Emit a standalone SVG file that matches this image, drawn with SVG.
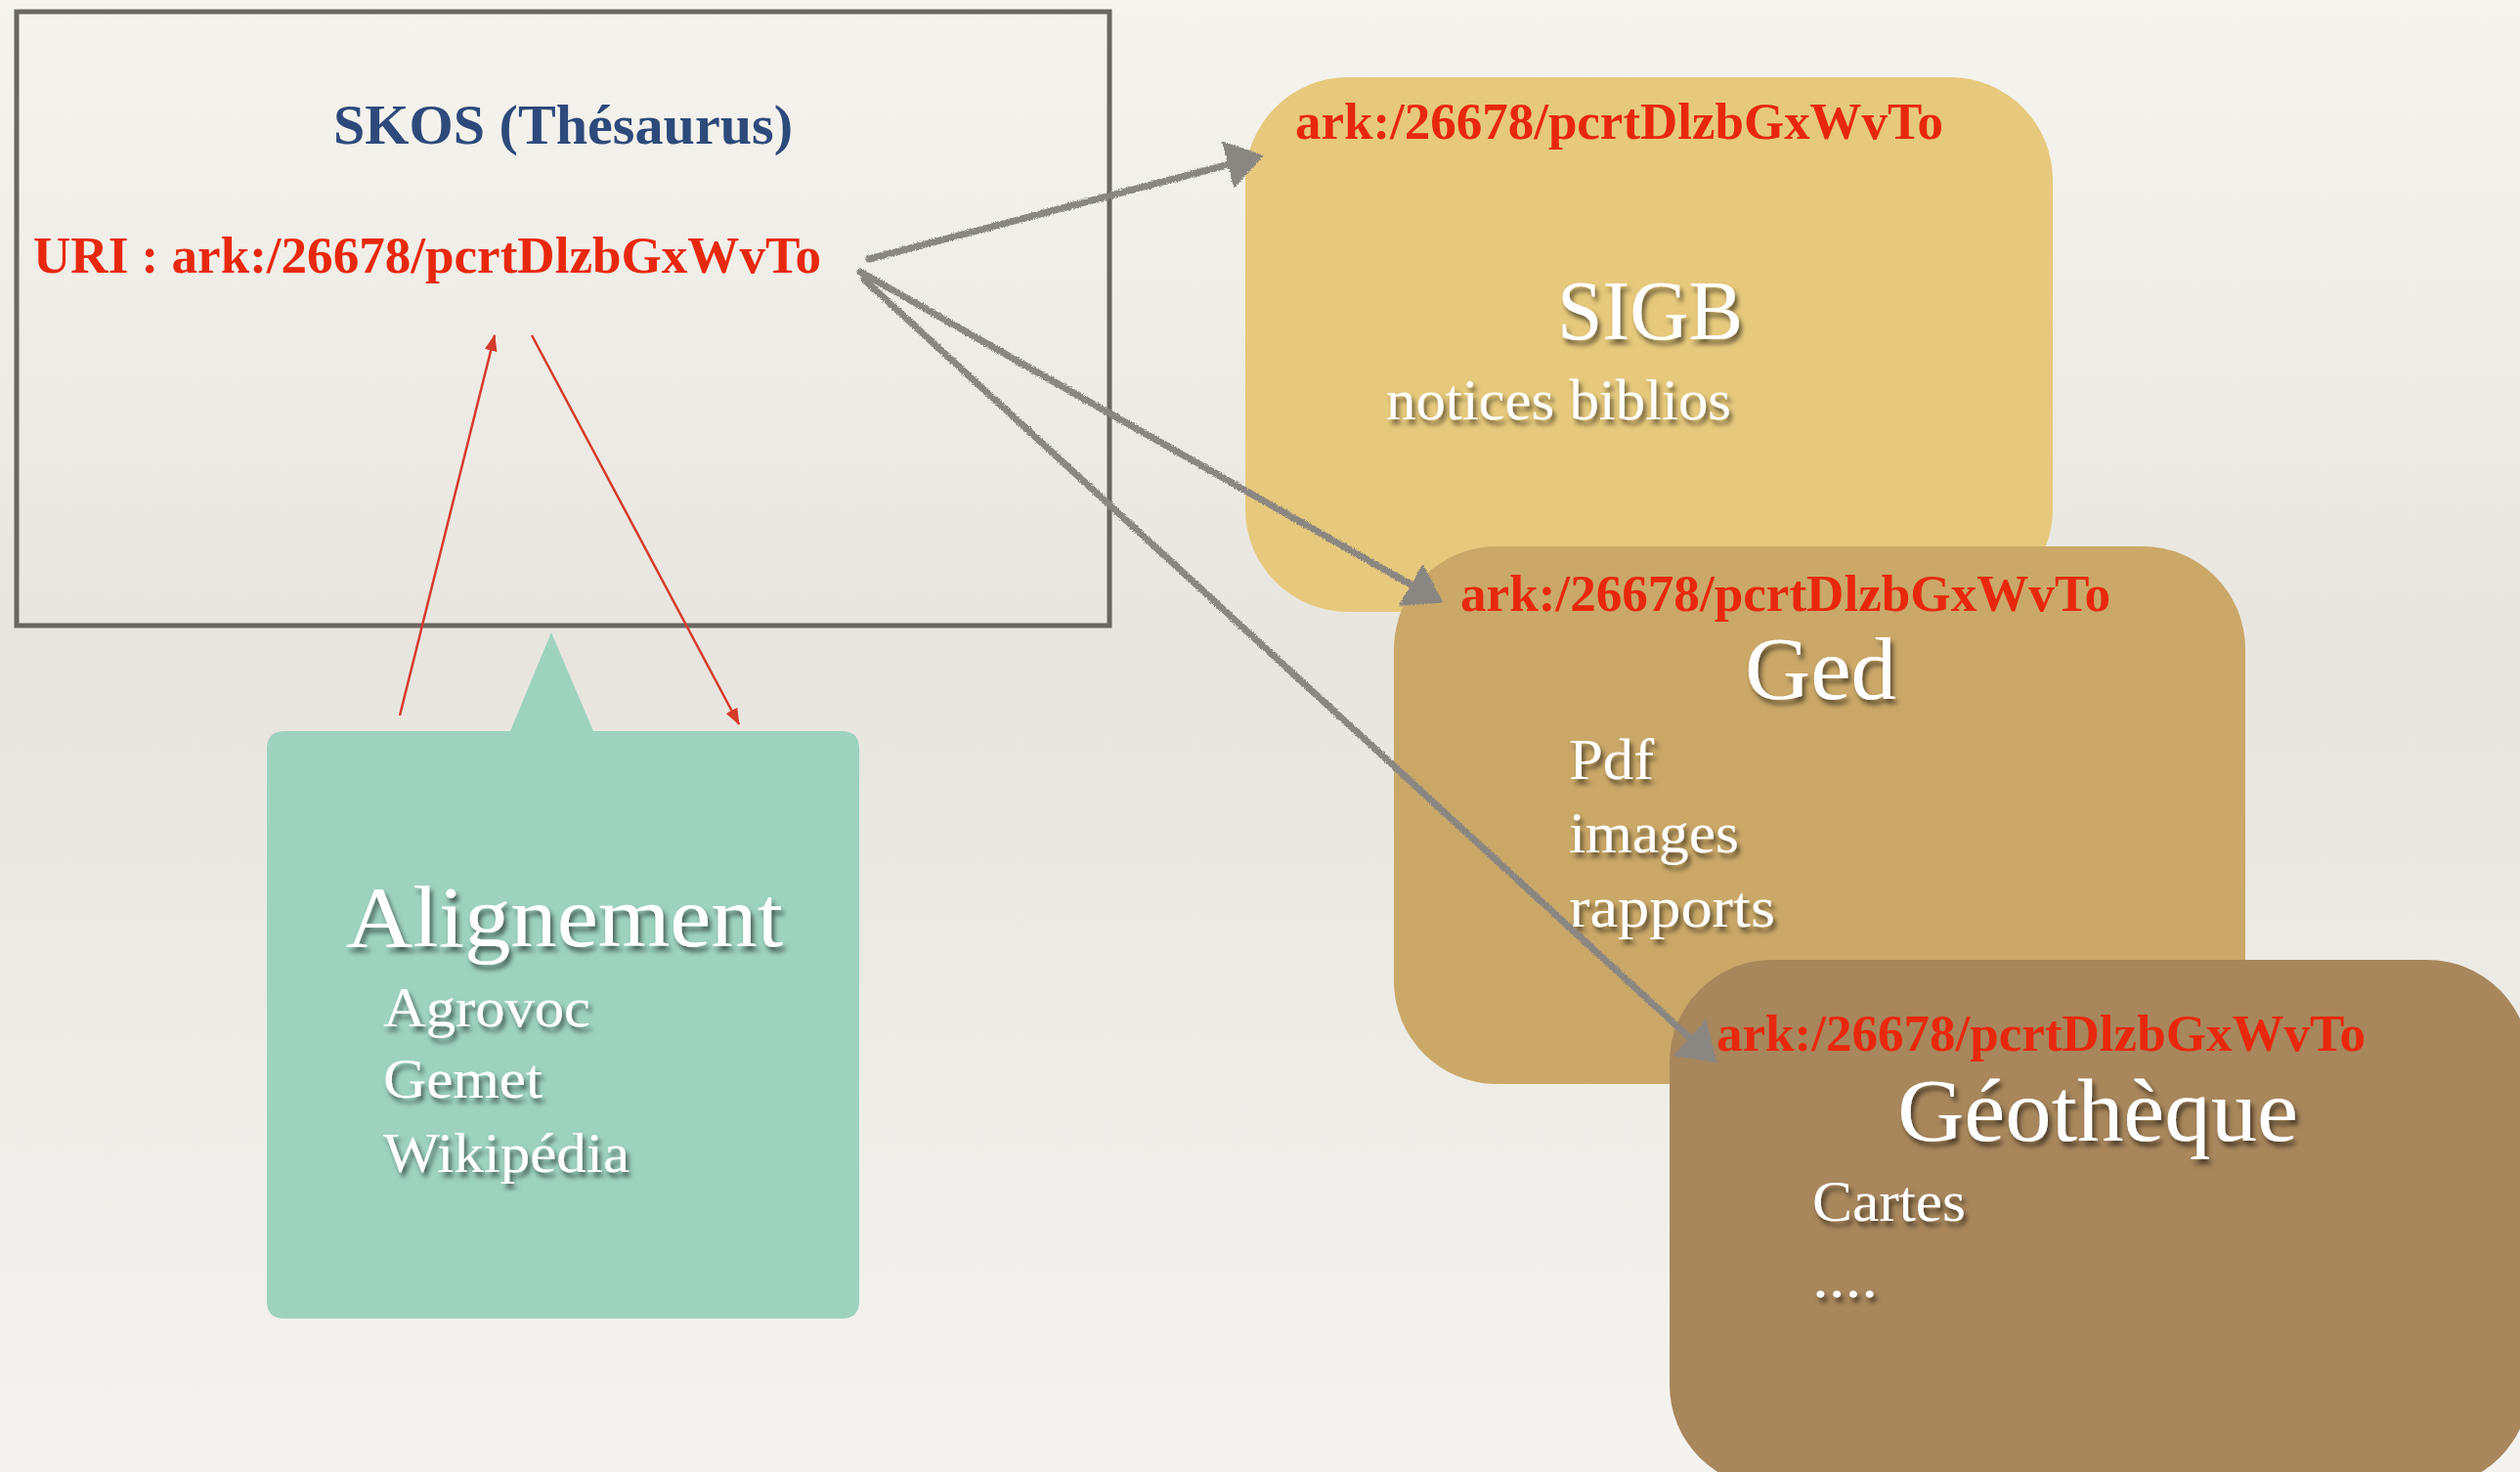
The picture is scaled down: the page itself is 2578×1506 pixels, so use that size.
<svg xmlns="http://www.w3.org/2000/svg" width="2578" height="1506" viewBox="0 0 2578 1506">
<defs>
<linearGradient id="bg" x1="0" y1="0" x2="0" y2="1">
<stop offset="0" stop-color="#f6f4ef"/>
<stop offset="0.45" stop-color="#e8e5df"/>
<stop offset="1" stop-color="#f4f3ef"/>
</linearGradient>
<filter id="shadow" x="-10%" y="-20%" width="130%" height="160%">
<feDropShadow dx="3" dy="5" stdDeviation="2.5" flood-color="#000" flood-opacity="0.55"/>
</filter>
<filter id="rough" x="-5%" y="-5%" width="110%" height="110%">
<feTurbulence type="fractalNoise" baseFrequency="0.9" numOctaves="2" seed="3" result="n"/>
<feDisplacementMap in="SourceGraphic" in2="n" scale="4" xChannelSelector="R" yChannelSelector="G"/>
</filter>
<marker id="grayHead" markerUnits="userSpaceOnUse" markerWidth="40" markerHeight="52" refX="2" refY="25" orient="auto">
<path d="M0,0 L38,25 L0,50 z" fill="#8a8682"/>
</marker>
<marker id="redHead" markerUnits="userSpaceOnUse" markerWidth="18" markerHeight="14" refX="16" refY="6.5" orient="auto">
<path d="M0,0 L17,6.5 L0,13 z" fill="#d63a2b"/>
</marker>
</defs>
<style>
.ark{font-family:"Liberation Serif",serif;font-weight:bold;font-size:52px;fill:#e8280e}
.wt{font-family:"Liberation Serif",serif;fill:#ffffff;filter:url(#shadow)}
.title{font-family:"Liberation Serif",serif;font-weight:bold;font-size:58px;fill:#2d4a7b}
.gray{fill:none;stroke:#8a8682;stroke-width:7;stroke-linecap:round;marker-end:url(#grayHead)}
.red{fill:none;stroke:#d63a2b;stroke-width:2.5;marker-end:url(#redHead)}
</style>
<rect x="0" y="0" width="2578" height="1506" fill="url(#bg)"/>

<g id="skos">
<rect x="17" y="12" width="1118" height="628" fill="none" stroke="#6a6762" stroke-width="5"/>
<text class="title" x="576" y="147" text-anchor="middle" textLength="470" lengthAdjust="spacingAndGlyphs">SKOS (Thésaurus)</text>
<text class="ark" x="34" y="279" textLength="806" lengthAdjust="spacingAndGlyphs">URI : ark:/26678/pcrtDlzbGxWvTo</text>
</g>

<g id="alignement">
<path d="M291,748 L522,748 L564,647 L607,748 L861,748 Q879,748 879,766 L879,1331 Q879,1349 861,1349 L291,1349 Q273,1349 273,1331 L273,766 Q273,748 291,748 Z" fill="#9dd2bf"/>
<text class="wt" x="354" y="968" font-size="88" textLength="447" lengthAdjust="spacingAndGlyphs">Alignement</text>
<text class="wt" x="392" y="1050" font-size="56" textLength="212" lengthAdjust="spacingAndGlyphs">Agrovoc</text>
<text class="wt" x="392" y="1123" font-size="56" textLength="163" lengthAdjust="spacingAndGlyphs">Gemet</text>
<text class="wt" x="392" y="1199" font-size="56" textLength="252" lengthAdjust="spacingAndGlyphs">Wikipédia</text>
</g>

<g id="sigb">
<rect x="1274" y="79" width="826" height="547" rx="105" ry="105" fill="#e6c97c"/>
<text class="ark" x="1325" y="142" textLength="663" lengthAdjust="spacingAndGlyphs">ark:/26678/pcrtDlzbGxWvTo</text>
<text class="wt" x="1593" y="347" font-size="86" textLength="190" lengthAdjust="spacingAndGlyphs">SIGB</text>
<text class="wt" x="1418" y="429" font-size="60" textLength="353" lengthAdjust="spacingAndGlyphs">notices biblios</text>
</g>

<g id="ged">
<rect x="1426" y="559" width="871" height="550" rx="105" ry="105" fill="#caa868"/>
<text class="ark" x="1494" y="625" textLength="665" lengthAdjust="spacingAndGlyphs">ark:/26678/pcrtDlzbGxWvTo</text>
<text class="wt" x="1785" y="715" font-size="90" textLength="155" lengthAdjust="spacingAndGlyphs">Ged</text>
<text class="wt" x="1605" y="797" font-size="60" textLength="87" lengthAdjust="spacingAndGlyphs">Pdf</text>
<text class="wt" x="1605" y="872" font-size="60" textLength="174" lengthAdjust="spacingAndGlyphs">images</text>
<text class="wt" x="1605" y="948" font-size="60" textLength="211" lengthAdjust="spacingAndGlyphs">rapports</text>
</g>

<g id="geotheque">
<rect x="1708" y="982" width="880" height="540" rx="105" ry="105" fill="#a8875c"/>
<text class="ark" x="1756" y="1075" textLength="664" lengthAdjust="spacingAndGlyphs">ark:/26678/pcrtDlzbGxWvTo</text>
<text class="wt" x="1941" y="1167" font-size="92" textLength="410" lengthAdjust="spacingAndGlyphs">Géothèque</text>
<text class="wt" x="1854" y="1249" font-size="60" textLength="157" lengthAdjust="spacingAndGlyphs">Cartes</text>
<text class="wt" x="1854" y="1327" font-size="60" textLength="67" lengthAdjust="spacingAndGlyphs">....</text>
</g>

<g id="connectors">
<line class="red" x1="409" y1="732" x2="506" y2="343"/>
<line class="red" x1="544" y1="343" x2="756" y2="741"/>
<g filter="url(#rough)">
<line class="gray" x1="889" y1="265" x2="1258" y2="168"/>
<line class="gray" x1="880" y1="278" x2="1445" y2="599"/>
<line class="gray" x1="884" y1="286" x2="1730" y2="1063"/>
</g>
</g>
</svg>
